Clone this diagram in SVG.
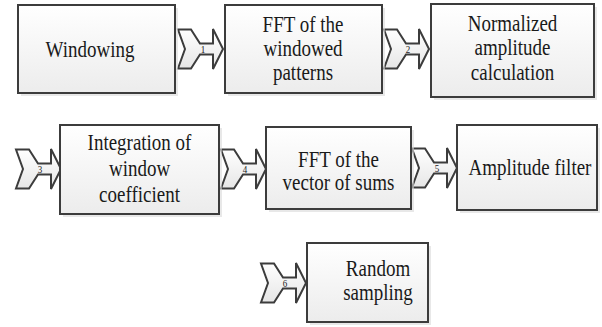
<svg xmlns="http://www.w3.org/2000/svg" xmlns:xlink="http://www.w3.org/1999/xlink" width="602" height="327" viewBox="0 0 602 327">
  <style>
    .box { fill: url(#boxFill); stroke: #3c3c3c; stroke-width: 2; }
    .shadow { fill: #d8d8d8; opacity: 0.6; }
    .lbl { font-family: 'Liberation Serif', 'Times New Roman', serif; font-size: 19px; fill: #1a1a1a; text-anchor: middle; }
    .arrow { fill: url(#arrowFill); stroke: #3c3c3c; stroke-width: 2; stroke-linejoin: miter; }
    .num { font-family: 'Liberation Serif', 'Times New Roman', serif; font-size: 9px; fill: #222; text-anchor: middle; }
  </style>
  <defs>
    <linearGradient id="boxFill" x1="0" y1="0" x2="0" y2="1">
      <stop offset="0" stop-color="#ffffff"/>
      <stop offset="1" stop-color="#ececec"/>
    </linearGradient>
    <linearGradient id="arrowFill" x1="0" y1="0" x2="0" y2="1">
      <stop offset="0" stop-color="#ffffff"/>
      <stop offset="1" stop-color="#e6e6e6"/>
    </linearGradient>
    <path id="arr" d="M0,-19.5 L13,-19.5 L22,-5.5 L35,-5.5 L35,-20 L45,0 L35,20 L35,5.5 L22,5.5 L13,19.5 L0,19.5 L7,0 Z"/>
  </defs>
  <rect width="602" height="327" fill="#ffffff"/>

  <g id="connectors">
    <use xlink:href="#arr" class="arrow" transform="translate(178,49)"/>
    <text class="num" transform="translate(203,52.5) scale(1,1.2)">1</text>
    <use xlink:href="#arr" class="arrow" transform="translate(384,49)"/>
    <text class="num" transform="translate(408,52.5) scale(1,1.2)">2</text>
    <use xlink:href="#arr" class="arrow" transform="translate(16,169)"/>
    <text class="num" transform="translate(40,172.5) scale(1,1.2)">3</text>
    <use xlink:href="#arr" class="arrow" transform="translate(221,169)"/>
    <text class="num" transform="translate(245,172.5) scale(1,1.2)">4</text>
    <use xlink:href="#arr" class="arrow" transform="translate(412,168)"/>
    <text class="num" transform="translate(437,171.5) scale(1,1.2)">5</text>
    <use xlink:href="#arr" class="arrow" transform="translate(261,283)"/>
    <text class="num" transform="translate(285,286.5) scale(1,1.2)">6</text>
  </g>

  <g id="node-windowing">
    <rect class="shadow" x="21" y="8" width="157" height="88"/>
    <rect class="box" x="18" y="5" width="157" height="88"/>
    <text class="lbl" transform="translate(90,57) scale(1,1.2)">Windowing</text>
  </g>
  <g id="node-fft-windowed">
    <rect class="shadow" x="228" y="8" width="157" height="88"/>
    <rect class="box" x="225" y="5" width="157" height="88"/>
    <text class="lbl" transform="translate(303,31.5) scale(1,1.2)">FFT of the</text>
    <text class="lbl" transform="translate(303,56) scale(1,1.2)">windowed</text>
    <text class="lbl" transform="translate(303,80) scale(1,1.2)">patterns</text>
  </g>
  <g id="node-normalized">
    <rect class="shadow" x="434" y="7" width="163" height="93"/>
    <rect class="box" x="431" y="4" width="163" height="93"/>
    <text class="lbl" transform="translate(512.5,30.5) scale(1,1.2)">Normalized</text>
    <text class="lbl" transform="translate(512.5,55) scale(1,1.2)">amplitude</text>
    <text class="lbl" transform="translate(512.5,80) scale(1,1.2)">calculation</text>
  </g>
  <g id="node-integration">
    <rect class="shadow" x="63" y="128" width="159" height="89"/>
    <rect class="box" x="60" y="125" width="159" height="89"/>
    <text class="lbl" transform="translate(139.5,150) scale(1,1.2)">Integration of</text>
    <text class="lbl" transform="translate(139.5,175.5) scale(1,1.2)">window</text>
    <text class="lbl" transform="translate(139.5,201.5) scale(1,1.2)">coefficient</text>
  </g>
  <g id="node-fft-sums">
    <rect class="shadow" x="269" y="130" width="145" height="82"/>
    <rect class="box" x="266" y="127" width="145" height="82"/>
    <text class="lbl" transform="translate(338.5,166.5) scale(1,1.2)">FFT of the</text>
    <text class="lbl" transform="translate(338.5,190) scale(1,1.2)">vector of sums</text>
  </g>
  <g id="node-amplitude-filter">
    <rect class="shadow" x="460" y="128" width="140" height="85"/>
    <rect class="box" x="457" y="125" width="140" height="85"/>
    <text class="lbl" transform="translate(530,175) scale(1,1.2)">Amplitude filter</text>
  </g>
  <g id="node-random-sampling">
    <rect class="shadow" x="310" y="246" width="121" height="79"/>
    <rect class="box" x="307" y="243" width="121" height="79"/>
    <text class="lbl" transform="translate(378,276) scale(1,1.2)">Random</text>
    <text class="lbl" transform="translate(378,300) scale(1,1.2)">sampling</text>
  </g>
</svg>
